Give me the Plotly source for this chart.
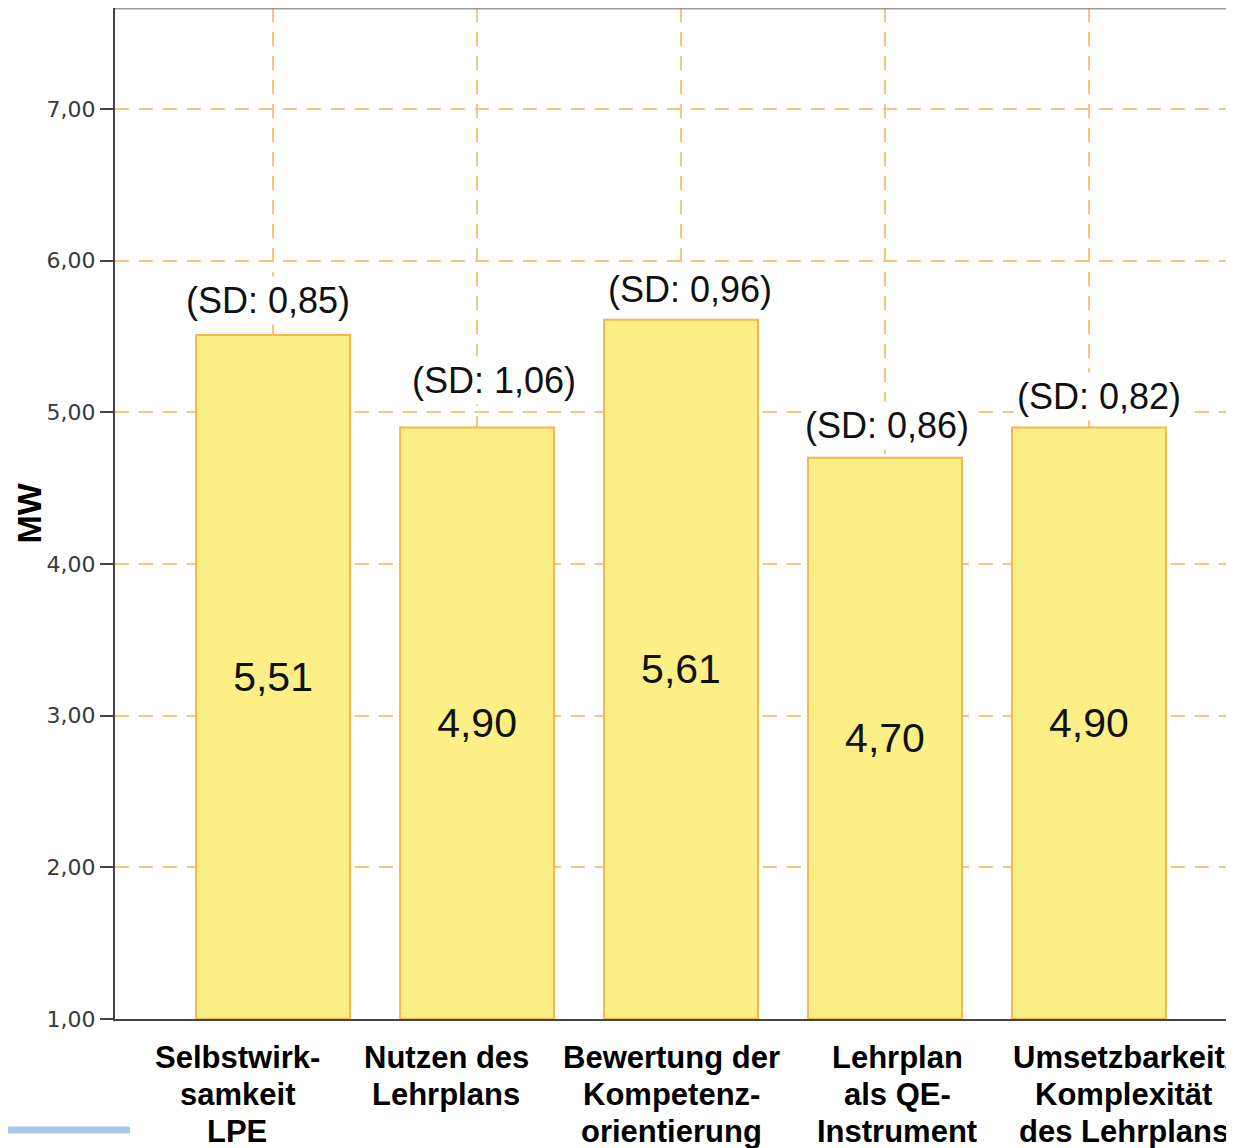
import plotly.graph_objects as go

categories = [["Selbstwirk-", "samkeit", "LPE"],
              ["Nutzen des", "Lehrplans"],
              ["Bewertung der", "Kompetenz-", "orientierung"],
              ["Lehrplan", "als QE-", "Instrument"],
              ["Umsetzbarkeit/", "Komplexität", "des Lehrplans"]]
means = [5.51, 4.90, 5.61, 4.70, 4.90]
sds = ["0,85", "1,06", "0,96", "0,86", "0,82"]
yticks = [1, 2, 3, 4, 5, 6, 7]
axis_base = 1

# style offsets (pixels)
sd_yshift = [34, 47, 30, 32, 31]
sd_xshift = [-5, 17, 9, 2, 10]
cat_xshift = [-36, -31, -10, 12, 35]
line_gap = 37

x = list(range(len(categories)))

fig = go.Figure()
fig.add_trace(go.Bar(
    x=x, y=[m - axis_base for m in means], base=axis_base, width=0.755,
    customdata=means,
    marker=dict(color="#FCEF86", line=dict(color="#F8B64C", width=2)),
    texttemplate="%{customdata:.2f}", textposition="inside", insidetextanchor="middle",
    textfont=dict(family="Liberation Sans, Arial", size=41, color="#111"),
    hoverinfo="skip",
))

annotations = []
for i in x:
    annotations.append(dict(
        x=i, y=means[i], xref="x", yref="y", text=f"(SD: {sds[i]})", showarrow=False,
        yanchor="middle", xanchor="center", yshift=sd_yshift[i], xshift=sd_xshift[i],
        font=dict(family="Liberation Sans, Arial", size=36, color="#111"),
        bgcolor="white", borderpad=3,
    ))
    for k, line in enumerate(categories[i]):
        annotations.append(dict(
            x=i, y=0, xref="x", yref="paper", text=line, showarrow=False,
            yanchor="middle", xanchor="center", xshift=cat_xshift[i], yshift=-38 - k * line_gap,
            font=dict(family="Liberation Sans, Arial", size=31, color="#000", weight="bold"),
        ))
annotations.append(dict(
    x=0, y=0.5, xref="paper", yref="paper", text="<b>MW</b>", showarrow=False,
    textangle=-90, xanchor="center", yanchor="middle", xshift=-87,
    font=dict(family="Liberation Sans, Arial", size=34, color="#000"),
))

grid = dict(gridcolor="#FFC27A", gridwidth=2, griddash="14px,10px")

fig.update_layout(
    width=1226, height=1140,
    margin=dict(l=107, r=0, t=0, b=129),
    paper_bgcolor="white", plot_bgcolor="white",
    separators=",.",
    showlegend=False,
    annotations=annotations,
    xaxis=dict(range=[-0.775, 4.711], tickvals=x, showticklabels=False, ticks="",
               showgrid=True, zeroline=False, showline=True, linecolor="#444", linewidth=2, **grid),
    yaxis=dict(range=[1, 7.665], tickvals=yticks, tickformat=".2f", ticks="outside", ticklen=13,
               tickwidth=2, tickcolor="#444", showline=True, linecolor="#444", linewidth=2,
               zeroline=False, showgrid=True, ticklabelstandoff=0,
               tickfont=dict(family="DejaVu Sans", size=22, color="#3a3a3a"), **grid),
    shapes=[
        dict(type="line", xref="paper", yref="paper", x0=0, x1=1, y0=1, y1=1,
             line=dict(color="#999", width=3)),
        dict(type="line", xref="paper", yref="paper", x0=-0.1035, x1=0.0135, y0=-0.1098, y1=-0.1098,
             line=dict(color="#A9C8E6", width=7)),
    ],
)

fig.write_html("out.html")
